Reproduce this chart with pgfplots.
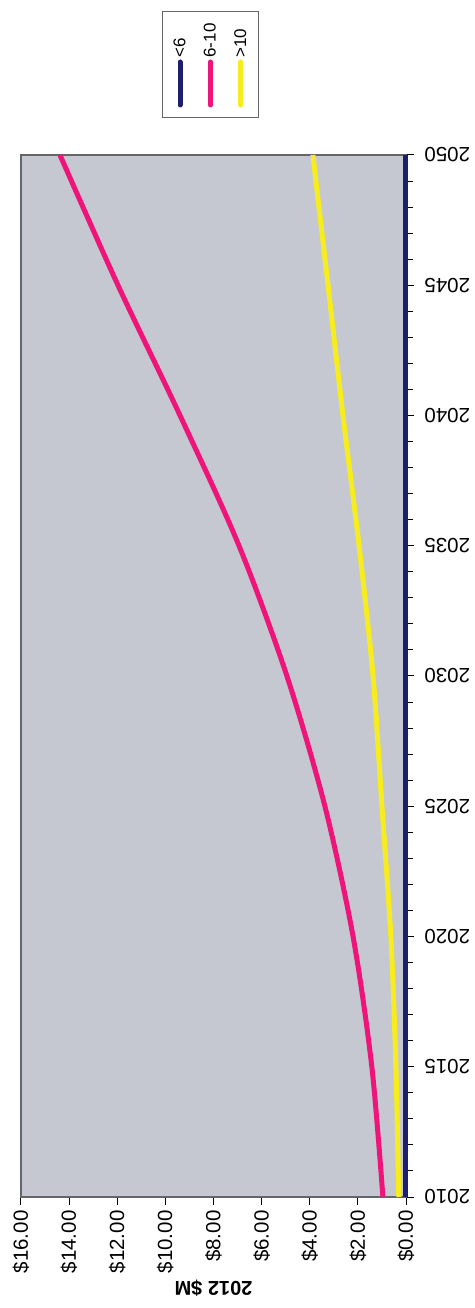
\documentclass[border=0pt]{standalone}
\usepackage{pgfplots}
\pgfplotsset{compat=1.18}
\usepackage{fontspec}
\setmainfont{Liberation Sans}

\definecolor{navyline}{HTML}{1E1E6E}
\definecolor{pinkline}{HTML}{EE1479}
\definecolor{yellowline}{HTML}{F6EC1E}
\definecolor{plotbg}{HTML}{C5C8D0}

\newcommand{\legfont}{\fontsize{17}{20}\selectfont}

\begin{document}
\begin{tikzpicture}[rotate=90, transform shape]
\path[use as bounding box] (-111pt,-68pt) rectangle (1197pt,406pt);
\begin{axis}[
  at={(0pt,0pt)}, anchor=origin,
  scale only axis, width=1042pt, height=385pt,
  xmin=2010, xmax=2050, ymin=0, ymax=16,
  clip=false,
  axis background/.style={fill=plotbg},
  axis line style={draw=black!60, line width=1.2pt},
  xtick={2010,2015,...,2050},
  minor x tick num=4,
  ytick={0,2,...,16},
  yticklabels={\$0.00,\$2.00,\$4.00,\$6.00,\$8.00,\$10.00,\$12.00,\$14.00,\$16.00},
  xticklabel style={rotate=90, anchor=east, font=\fontsize{20.5}{24}\selectfont},
  yticklabel style={font=\fontsize{20.5}{24}\selectfont},
  xticklabel={\pgfmathprintnumber[1000 sep={}]{\tick}},
  xticklabel shift=7pt,
  yticklabel shift=2pt,
  /pgf/number format/assume math mode=true,
  tick align=outside,
  xtick pos=bottom, ytick pos=left,
  major tick length=8pt, minor tick length=7pt,
  tick style={black, line width=1pt},
  ylabel={\textbf{2012 \$M}},
  ylabel style={font=\fontsize{20}{24}\selectfont},
  legend cell align=left,
  legend style={at={(axis description cs:1.0355,0.634)}, anchor=north west,
    font=\legfont, draw=black!60, line width=1pt,
    inner xsep=10pt, inner ysep=9pt, row sep=13pt,
    /tikz/every even column/.append style={column sep=2pt}},
  legend image code/.code={\draw[#1, line cap=round] (0pt,0pt) -- (43pt,0pt);},
]
\addplot[navyline, line width=5pt] coordinates {
  (2010,0.03) (2020,0.03) (2030,0.03) (2040,0.03) (2050,0.03)};
\addlegendentry{\legfont <6}
\addplot[pinkline, line width=5pt, smooth] coordinates {
  (2010,0.96) (2015,1.42) (2020,2.20) (2025,3.37) (2030,4.95)
  (2035,6.94) (2040,9.39) (2045,11.97) (2050,14.38)};
\addlegendentry{\legfont 6-10}
\addplot[yellowline, line width=5pt, smooth] coordinates {
  (2010,0.30) (2015,0.42) (2020,0.63) (2025,1.00) (2030,1.37)
  (2035,1.95) (2040,2.62) (2045,3.24) (2050,3.87)};
\addlegendentry{\legfont >10}
\end{axis}
\end{tikzpicture}
\end{document}
